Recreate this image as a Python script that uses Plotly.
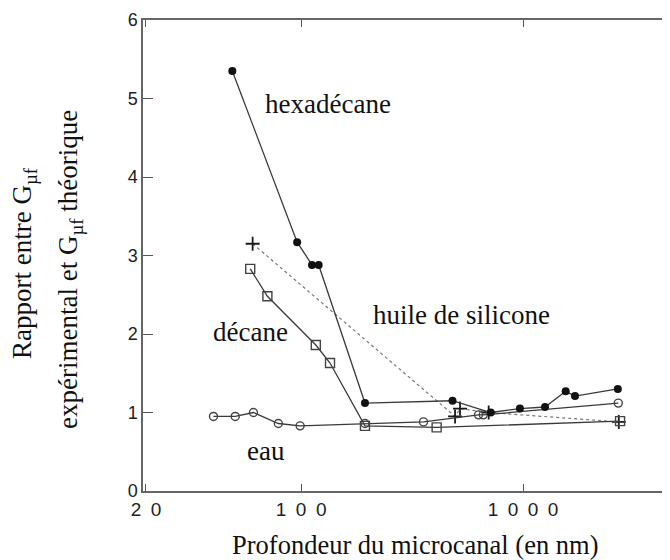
import plotly.graph_objects as go
import math

# ---- data ----
hexa_x = [49, 96, 112, 120, 194, 481, 715, 968, 1256, 1556, 1714, 2673]
hexa_y = [5.35, 3.17, 2.88, 2.88, 1.12, 1.15, 1.00, 1.05, 1.07, 1.27, 1.21, 1.30]

decane_x = [59, 70.5, 116.5, 135, 194, 408, 2735]
decane_y = [2.83, 2.48, 1.86, 1.63, 0.83, 0.81, 0.89]

eau_x = [40.3, 50.5, 61, 79, 99, 194, 356, 630, 662, 2685]
eau_y = [0.95, 0.95, 1.00, 0.86, 0.83, 0.86, 0.88, 0.97, 0.97, 1.12]

sil_x = [60.5, 494, 520, 700, 2700]
sil_y = [3.15, 0.95, 1.05, 1.00, 0.88]

x_tickvals = [20, 100, 1000]
x_ticktext = ["2\u20020", "1\u20020\u20020", "1\u20020\u20020\u20020"]
y_tickvals = [0, 1, 2, 3, 4, 5, 6]

labels = ["hexadécane", "décane", "huile de silicone", "eau"]
label_x = [132, 59, 526, 69.5]
label_y = [4.93, 2.03, 2.24, 0.51]

ytitle1 = "Rapport entre G<sub>µf</sub>"
ytitle2 = "expérimental et G<sub>µf</sub> théorique"
xtitle = "Profondeur du microcanal (en nm)"

LINE = "#3a3a3a"
SERIF = "Liberation Serif, serif"
SANS = "Liberation Sans, Arial, sans-serif"

fig = go.Figure()
fig.add_trace(go.Scatter(x=sil_x, y=sil_y, mode="lines+markers",
                         line=dict(color="#777777", width=1.2, dash="dot"),
                         marker=dict(symbol="cross-thin-open", size=10, color="#1a1a1a",
                                     line=dict(color="#1a1a1a", width=1.8))))
fig.add_trace(go.Scatter(x=eau_x, y=eau_y, mode="lines+markers",
                         line=dict(color=LINE, width=1.3),
                         marker=dict(symbol="circle-open", size=8, color="#444444",
                                     line=dict(width=1.4))))
fig.add_trace(go.Scatter(x=decane_x, y=decane_y, mode="lines+markers",
                         line=dict(color=LINE, width=1.3),
                         marker=dict(symbol="square-open", size=9, color="#444444",
                                     line=dict(width=1.4))))
fig.add_trace(go.Scatter(x=hexa_x, y=hexa_y, mode="lines+markers",
                         line=dict(color=LINE, width=1.3),
                         marker=dict(symbol="circle", size=8, color="#111111")))

for t, lx, ly in zip(labels, label_x, label_y):
    fig.add_annotation(x=math.log10(lx), y=ly, text=t, showarrow=False,
                       font=dict(family=SERIF, size=27, color="#111111"),
                       xanchor="center", yanchor="middle")

# the page has an 8 px body margin: size the figure so it fits the window
OFF = 8
W, H = 670 - OFF, 560 - OFF
L, T = 143 - OFF, 20 - OFF
R = W - (670 - OFF)
B = H - (491 - OFF)
pw, ph = W - L - R, H - T - B

def px(xp):
    return (xp - OFF - L) / pw

def py(yp):
    return (H - B - (yp - OFF)) / ph

fig.add_annotation(xref="paper", yref="paper", x=px(24), y=py(263), text=ytitle1,
                   textangle=-90, showarrow=False, xanchor="center", yanchor="middle",
                   font=dict(family=SERIF, size=27, color="#111111"))
fig.add_annotation(xref="paper", yref="paper", x=px(70), y=py(270), text=ytitle2,
                   textangle=-90, showarrow=False, xanchor="center", yanchor="middle",
                   font=dict(family=SERIF, size=27, color="#111111"))
fig.add_annotation(xref="paper", yref="paper", x=px(415), y=py(545), text=xtitle,
                   showarrow=False, xanchor="center", yanchor="middle",
                   font=dict(family=SERIF, size=26.5, color="#111111"))

fig.update_xaxes(type="log", range=[math.log10(19.4), math.log10(4592)],
                 tickvals=x_tickvals, ticktext=x_ticktext,
                 ticks="inside", ticklen=7, tickwidth=1.3, tickcolor="#555555",
                 showline=True, linecolor="#666666", linewidth=1.5, mirror="ticks",
                 showgrid=False, zeroline=False,
                 tickfont=dict(family=SANS, size=19, color="#222222"))
fig.update_yaxes(range=[0, 6], tickvals=y_tickvals,
                 ticks="inside", ticklen=10, tickwidth=1.3, tickcolor="#555555",
                 showline=True, linecolor="#666666", linewidth=1.5, mirror=False,
                 showgrid=False, zeroline=False,
                 tickfont=dict(family=SANS, size=18, color="#222222"))

fig.update_layout(width=W, height=H, margin=dict(l=L, r=R, t=T, b=B),
                  paper_bgcolor="white", plot_bgcolor="white", showlegend=False)

fig.write_html("out.html")
